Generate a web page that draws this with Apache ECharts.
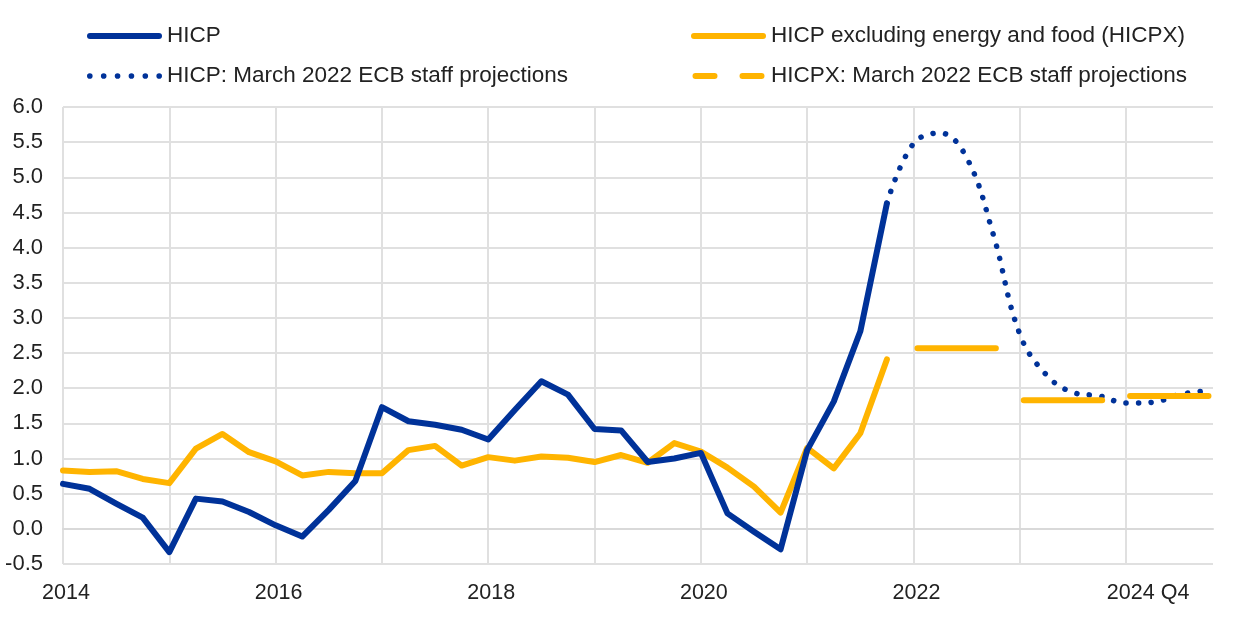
<!DOCTYPE html>
<html>
<head>
<meta charset="utf-8">
<script src="https://cdn.jsdelivr.net/npm/echarts@6/dist/echarts.min.js"></script>
<style>
html,body{margin:0;padding:0;background:#fff;}
#chart{width:1240px;height:619px;}
</style>
</head>
<body>
<div id="chart"></div>
<script>
// ---- data ----
const quarters = [
  '2014 Q1','2014 Q2','2014 Q3','2014 Q4','2015 Q1','2015 Q2','2015 Q3','2015 Q4',
  '2016 Q1','2016 Q2','2016 Q3','2016 Q4','2017 Q1','2017 Q2','2017 Q3','2017 Q4',
  '2018 Q1','2018 Q2','2018 Q3','2018 Q4','2019 Q1','2019 Q2','2019 Q3','2019 Q4',
  '2020 Q1','2020 Q2','2020 Q3','2020 Q4','2021 Q1','2021 Q2','2021 Q3','2021 Q4',
  '2022 Q1','2022 Q2','2022 Q3','2022 Q4','2023 Q1','2023 Q2','2023 Q3','2023 Q4',
  '2024 Q1','2024 Q2','2024 Q3','2024 Q4'
];
const hicp = [
  0.64, 0.57, 0.36, 0.16, -0.33, 0.43, 0.39, 0.24,
  0.05, -0.11, 0.27, 0.68, 1.73, 1.53, 1.48, 1.41,
  1.27, 1.69, 2.10, 1.91, 1.42, 1.40, 0.95, 1.00,
  1.08, 0.22, -0.04, -0.29, 1.12, 1.81, 2.81, 4.63
];
const hicpx = [
  0.83, 0.81, 0.82, 0.71, 0.65, 1.14, 1.35, 1.09,
  0.96, 0.76, 0.81, 0.79, 0.79, 1.12, 1.18, 0.90,
  1.02, 0.97, 1.03, 1.01, 0.95, 1.05, 0.94, 1.22,
  1.10, 0.87, 0.60, 0.23, 1.15, 0.86, 1.36, 2.41
];
// HICP projections, quarterly from 2021 Q4 to 2024 Q4
const hicpProjStart = '2021 Q4';
const hicpProj = [4.63, 5.48, 5.63, 5.28, 4.19, 2.77, 2.19, 1.94, 1.89, 1.79, 1.80, 1.91, 1.96];
// HICPX projections, annual averages
const hicpxProjYears = ['2022', '2023', '2024'];
const hicpxProj = [2.57, 1.83, 1.89];
// x tick labels, one per year gridline
const xTickLabels = ['2014', '', '2016', '', '2018', '', '2020', '', '2022', '', '2024 Q4'];
const yMin = -0.5, yMax = 6.0, yStep = 0.5;

// ---- build ----
const BLUE = '#003299';
const YELLOW = '#FFB400';
const idx = q => quarters.indexOf(q);
const hicpData = hicp.map((v, i) => [i, v]);
const hicpxData = hicpx.map((v, i) => [i, v]);
const p0 = idx(hicpProjStart);
const hicpProjData = hicpProj.map((v, i) => [p0 + i, v]);
const SEG_A = 0.15, SEG_B = 3.1; // style: where each annual bar starts/ends within its year
const hicpxProjData = [];
hicpxProjYears.forEach((y, k) => {
  const s = idx(y + ' Q1');
  hicpxProjData.push([s + SEG_A, hicpxProj[k]]);
  hicpxProjData.push([s + SEG_B, hicpxProj[k]]);
  hicpxProjData.push([s + 3.5, '-']);
});

const FONT = '"Liberation Sans", Arial, sans-serif';
const solidIcon = 'path://M3,0 H72 A3,3 0 0 1 72,6 H3 A3,3 0 0 1 3,0 Z';
let dots = '';
for (let k = 0; k < 6; k++) {
  const cx = 3 + k * 13.8;
  dots += `M${cx - 2.8},3 A2.8,2.8 0 1 0 ${cx + 2.8},3 A2.8,2.8 0 1 0 ${cx - 2.8},3 Z `;
}
const dotIcon = 'path://' + dots;
const dashIcon = 'path://M3,0 H22 A3,3 0 0 1 22,6 H3 A3,3 0 0 1 3,0 Z M50,0 H69 A3,3 0 0 1 69,6 H50 A3,3 0 0 1 50,0 Z';

const legendCommon = {
  orient: 'vertical',
  top: 24,
  padding: 0,
  itemWidth: 75,
  itemHeight: 6,
  itemGap: 16,
  selectedMode: false,
  itemStyle: { borderWidth: 0 },
  textStyle: { fontFamily: FONT, fontSize: 22.5, color: '#222', lineHeight: 24 }
};

const chart = echarts.init(document.getElementById('chart'), null, { renderer: 'canvas' });
chart.setOption({
  animation: false,
  backgroundColor: '#fff',
  grid: { left: 63, right: 27, top: 107, bottom: 55, containLabel: false },
  legend: [
    Object.assign({}, legendCommon, {
      left: 87,
      data: [
        { name: 'HICP', icon: solidIcon },
        { name: 'HICP: March 2022 ECB staff projections', icon: dotIcon }
      ]
    }),
    Object.assign({}, legendCommon, {
      left: 691,
      data: [
        { name: 'HICP excluding energy and food (HICPX)', icon: solidIcon },
        { name: 'HICPX: March 2022 ECB staff projections', icon: dashIcon }
      ]
    })
  ],
  xAxis: {
    type: 'value',
    min: 0,
    max: 43.27,
    interval: 4,
    axisLine: { show: true, lineStyle: { color: '#d9d9d9', width: 2 } },
    axisTick: { show: false },
    splitLine: { show: true, showMaxLine: false, lineStyle: { color: '#e0e0e0', width: 2 } },
    axisLabel: {
      margin: 18,
      fontFamily: FONT,
      fontSize: 21.5,
      color: '#222',
      formatter: v => {
        if (v % 4 !== 0) return '';
        const t = xTickLabels[v / 4] || '';
        if (!t) return '';
        return t.indexOf('Q') > 0 ? '{q|' + t + '}' : '{y|' + t + '}';
      },
      rich: {
        y: { fontFamily: FONT, fontSize: 21.5, color: '#222', padding: [0, 0, 0, 6] },
        q: { fontFamily: FONT, fontSize: 21.5, color: '#222', padding: [0, 0, 0, 44] }
      }
    }
  },
  yAxis: {
    type: 'value',
    min: yMin,
    max: yMax,
    interval: yStep,
    axisLine: { show: false },
    axisTick: { show: false },
    splitLine: { show: true, lineStyle: { color: '#e0e0e0', width: 2 } },
    axisLabel: {
      margin: 20,
      fontFamily: FONT,
      fontSize: 22,
      color: '#222',
      formatter: v => v.toFixed(1)
    }
  },
  series: [
    {
      name: 'HICP excluding energy and food (HICPX)',
      type: 'line',
      data: hicpxData,
      symbol: 'none',
      itemStyle: { color: YELLOW },
      lineStyle: { color: YELLOW, width: 6, cap: 'round', join: 'round' },
      z: 2
    },
    {
      name: 'HICP',
      type: 'line',
      data: hicpData,
      symbol: 'none',
      itemStyle: { color: BLUE },
      lineStyle: { color: BLUE, width: 6, cap: 'round', join: 'round' },
      z: 3
    },
    {
      name: 'HICP: March 2022 ECB staff projections',
      type: 'line',
      data: hicpProjData,
      symbol: 'none',
      smooth: 0.4,
      itemStyle: { color: BLUE },
      lineStyle: { color: BLUE, width: 5.5, cap: 'round', type: [0.1, 12.5] },
      z: 3
    },
    {
      name: 'HICPX: March 2022 ECB staff projections',
      type: 'line',
      data: hicpxProjData,
      symbol: 'none',
      connectNulls: false,
      itemStyle: { color: YELLOW },
      lineStyle: { color: YELLOW, width: 6, cap: 'round' },
      z: 4
    }
  ]
});
</script>
</body>
</html>
